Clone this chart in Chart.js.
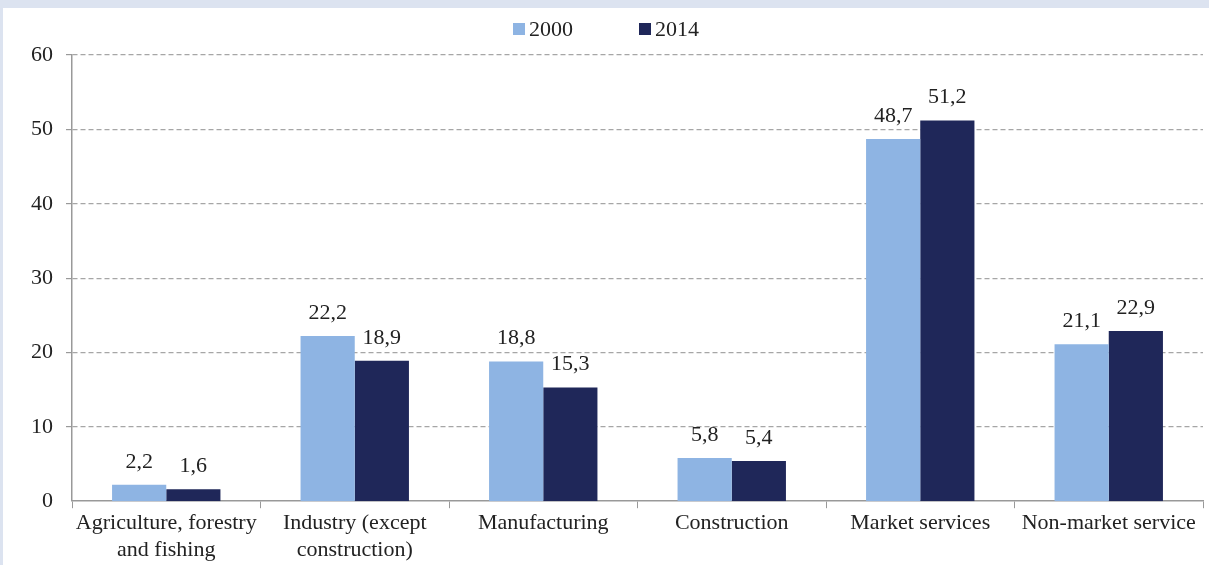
<!DOCTYPE html>
<html>
<head>
<meta charset="utf-8">
<script src="https://cdn.jsdelivr.net/npm/chart.js@4"></script>
<style>
  html, body { margin: 0; padding: 0; background: #fff; }
  .frame { position: relative; width: 1209px; height: 565px; box-sizing: border-box;
           border-top: 8px solid #dce3f0; border-left: 3px solid #dce3f0; }
  canvas { position: absolute; left: 0; top: 0; }
</style>
</head>
<body>
<div class="frame">
  <canvas id="chart" width="1206" height="557"></canvas>
</div>
<script>
const categories = [
  ["Agriculture, forestry", "and fishing"],
  ["Industry (except", "construction)"],
  "Manufacturing",
  "Construction",
  "Market services",
  "Non-market service"
];
const values2000 = [2.2, 22.2, 18.8, 5.8, 48.7, 21.1];
const values2014 = [1.6, 18.9, 15.3, 5.4, 51.2, 22.9];
const yTicks = [0, 10, 20, 30, 40, 50, 60];

const serif = "'Liberation Serif', 'Times New Roman', serif";

// writes the value above each bar, with a decimal comma
const barLabels = {
  id: "barLabels",
  afterDatasetsDraw(chart) {
    const ctx = chart.ctx;
    ctx.save();
    ctx.font = "22px " + serif;
    ctx.fillStyle = "#222";
    ctx.textAlign = "center";
    ctx.textBaseline = "alphabetic";
    chart.data.datasets.forEach((ds, i) => {
      chart.getDatasetMeta(i).data.forEach((bar, j) => {
        ctx.fillText(ds.data[j].toFixed(1).replace(".", ","), bar.x, bar.y - 17);
      });
    });
    ctx.restore();
  }
};

// legend at the top: small square + year, items far apart
const topLegend = {
  id: "topLegend",
  afterDraw(chart) {
    const ctx = chart.ctx;
    const gap = 66, box = 12, space = 4, y = 21;
    ctx.save();
    ctx.font = "22px " + serif;
    ctx.textBaseline = "middle";
    const items = chart.data.datasets.map(ds => ({
      text: ds.label, color: ds.backgroundColor, w: ctx.measureText(ds.label).width
    }));
    let total = items.reduce((s, it) => s + box + space + it.w, 0) + gap * (items.length - 1);
    let x = chart.width / 2 - total / 2;
    items.forEach(it => {
      ctx.fillStyle = it.color;
      ctx.fillRect(x, y - box / 2, box, box);
      ctx.fillStyle = "#222";
      ctx.fillText(it.text, x + box + space, y + 1);
      x += box + space + it.w + gap;
    });
    ctx.restore();
  }
};

new Chart(document.getElementById("chart").getContext("2d"), {
  type: "bar",
  data: {
    labels: categories,
    datasets: [
      { label: "2000", data: values2000, backgroundColor: "#8eb4e3" },
      { label: "2014", data: values2014, backgroundColor: "#1f2759" }
    ]
  },
  options: {
    responsive: false,
    animation: false,
    categoryPercentage: 0.575,
    barPercentage: 1,
    layout: { padding: { left: 0, right: 6, top: 47, bottom: 0 } },
    plugins: {
      legend: { display: false },
      tooltip: { enabled: false }
    },
    scales: {
      x: {
        grid: { offset: true, drawOnChartArea: false, tickLength: 7, color: "#999" },
        border: { color: "#999", width: 1.5 },
        ticks: { color: "#222", font: { family: serif, size: 22, lineHeight: 1.2 }, maxRotation: 0, padding: 2 }
      },
      y: {
        min: 0, max: 60,
        afterBuildTicks(axis) { axis.ticks = yTicks.map(v => ({ value: v })); },
        afterFit(axis) { axis.width = 69; },
        grid: { color: "#a6a6a6", tickBorderDash: [0, 0], tickColor: "#999", tickLength: 6,
                lineWidth: ctx => ctx.tick && ctx.tick.value === 0 ? 0 : 1.2 },
        border: { color: "#999", width: 1.5, dash: [5, 3] },
        ticks: { color: "#222", font: { family: serif, size: 22 }, padding: 13 }
      }
    }
  },
  plugins: [barLabels, topLegend]
});
</script>
</body>
</html>
